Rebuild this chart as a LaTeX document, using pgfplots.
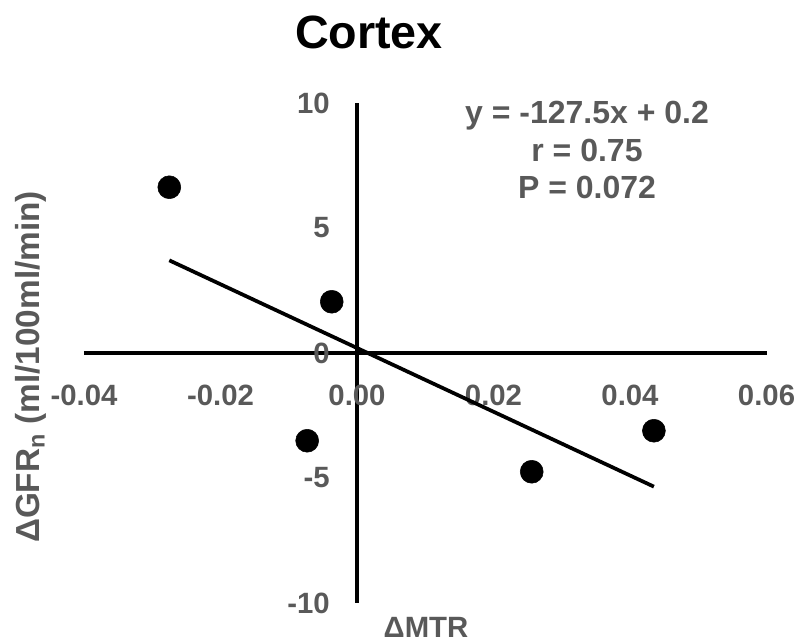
\documentclass[border=0pt]{standalone}
\usepackage{pgfplots}
\pgfplotsset{compat=1.18}
\usepackage{fontspec}
\setmainfont{Liberation Sans}
\definecolor{lbl}{HTML}{595959}
\begin{document}
\begin{tikzpicture}[x=0.75pt,y=0.75pt]
\useasboundingbox (0,0) rectangle (801,642);
\begin{axis}[
  at={(267.75pt,216.75pt)}, anchor=origin,
  scale only axis, width=511.9pt, height=375pt,
  axis lines=middle,
  every inner x axis line/.append style={-, line width=2.6pt, black},
  every inner y axis line/.append style={-, line width=2.6pt, black},
  xmin=-0.04, xmax=0.06, ymin=-10, ymax=10,
  xtick={-0.04,-0.02,0,0.02,0.04,0.06},
  xticklabels={-0.04,-0.02,0.00,0.02,0.04,0.06},
  scaled x ticks=false, scaled y ticks=false,
  hide obscured x ticks=false, hide obscured y ticks=false,
  ytick={-10,-5,0,5,10},
  major tick length=0pt,
  /pgf/number format/assume math mode=true,
  ticklabel style={font=\fontsize{22}{26}\selectfont\bfseries, text=lbl, inner sep=0pt},
  xticklabel style={anchor=center, yshift=-31.5pt},
  yticklabel style={anchor=east, xshift=-20.25pt},
  clip=false,
]
\addplot[only marks, mark=*, mark size=8.6pt, black] coordinates {
  (-0.0275, 6.63) (-0.0037, 2.05) (-0.0073, -3.51) (0.0256, -4.75) (0.0435, -3.11)
};
\addplot[black, line width=2.8pt, no marks] coordinates {
  (-0.0275, 3.706) (0.0435, -5.346)
};
\end{axis}
\node[font=\fontsize{35}{40}\selectfont\bfseries] at (369,610) {Cortex};
\node[font=\fontsize{24}{28}\selectfont\bfseries, text=lbl, align=center] at (587,492) {y = -127.5x + 0.2\\[0pt] r = 0.75\\[0pt] P = 0.072};
\node[font=\fontsize{22}{26}\selectfont\bfseries, text=lbl] at (426,15) {ΔMTR};
\node[font=\fontsize{25}{28}\selectfont\bfseries, text=lbl, rotate=90] at (31,275) {ΔGFR\textsubscript{n} (ml/100ml/min)};
\end{tikzpicture}
\end{document}
